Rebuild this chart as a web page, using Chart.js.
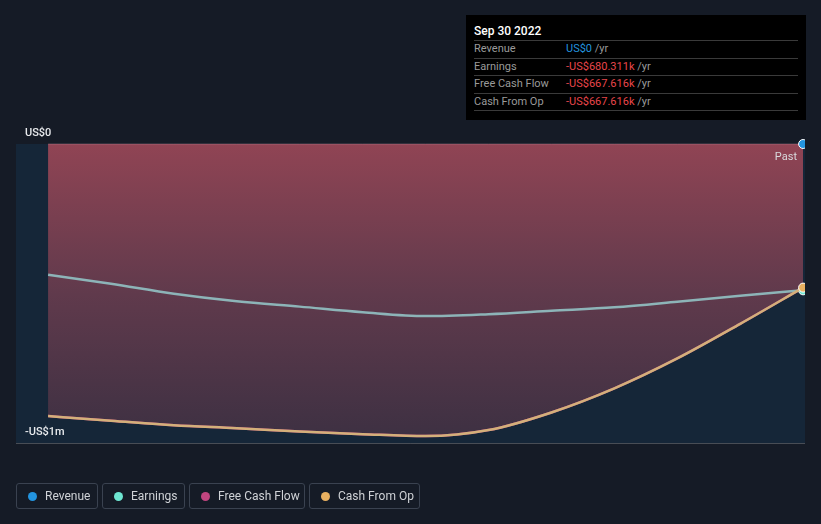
<!DOCTYPE html>
<html>
<head>
<meta charset="utf-8">
<script src="https://cdn.jsdelivr.net/npm/chart.js@4.4.0/dist/chart.umd.min.js"></script>
<style>
  html, body { margin: 0; padding: 0; background: #151b26; }
  body { width: 821px; height: 524px; position: relative; overflow: hidden; font-family: Roboto, "Noto Sans", sans-serif; }
  #wrap { position: absolute; left: 0; top: 0; width: 821px; height: 524px; }
  .tip { position: absolute; left: 466px; top: 15px; width: 340px; height: 105px; background: #000; box-sizing: border-box; padding: 8px 8px 0 8px; font-size: 11px; }
  .tip .title { color: #fff; font-size: 12px; font-weight: 500; height: 17px; line-height: 17px; border-bottom: 1px solid #3a3a3a; }
  .tip .row { height: 16.5px; line-height: 16.5px; border-bottom: 1px solid #3a3a3a; color: #9a9a9a; position: relative; }
  .tip .row span.v { position: absolute; left: 92px; }
  .blue { color: #2394df; }
  .red { color: #e8464b; }
  .legend div { position: absolute; top: 483px; height: 26px; box-sizing: border-box; border: 1px solid #3a4250; border-radius: 3px; color: #cfd2d6; font-size: 12px; line-height: 24px; padding-left: 11px; white-space: nowrap; }
  .legend i { display: inline-block; width: 9px; height: 9px; border-radius: 50%; margin-right: 8px; vertical-align: -0.5px; }
</style>
</head>
<body>
<div id="wrap"><canvas id="chart" width="821" height="524"></canvas></div>
<div class="tip">
  <div class="title">Sep 30 2022</div>
  <div class="row">Revenue<span class="v"><span class="blue">US$0</span> /yr</span></div>
  <div class="row">Earnings<span class="v"><span class="red">-US$680.311k</span> /yr</span></div>
  <div class="row">Free Cash Flow<span class="v"><span class="red">-US$667.616k</span> /yr</span></div>
  <div class="row">Cash From Op<span class="v"><span class="red">-US$667.616k</span> /yr</span></div>
</div>
<div class="legend">
  <div style="left:16px;width:82px"><i style="background:#2394df"></i>Revenue</div>
  <div style="left:102px;width:83px"><i style="background:#6ee6d2"></i>Earnings</div>
  <div style="left:189px;width:116px"><i style="background:#c0457f"></i>Free Cash Flow</div>
  <div style="left:309px;width:111px"><i style="background:#e8b060"></i>Cash From Op</div>
</div>
<script>
// quarterly periods, values in US$ millions
const periods = ["Sep 2019", "Dec 2019", "Mar 2020", "Jun 2020", "Sep 2020", "Dec 2020", "Mar 2021",
                 "Jun 2021", "Sep 2021", "Dec 2021", "Mar 2022", "Jun 2022", "Sep 2022"];
const revenue = [0, 0, 0, 0, 0, 0, 0, 0, 0, 0, 0, 0, 0];
const earnings = [-0.608, -0.650, -0.696, -0.731, -0.756, -0.782, -0.800, -0.791, -0.775, -0.759, -0.733, -0.705, -0.680311];
const freeCashFlow = [-1.265, -1.286, -1.307, -1.321, -1.337, -1.349, -1.358, -1.330, -1.248, -1.136, -0.997, -0.836, -0.667616];
const cashFromOp = [-1.265, -1.286, -1.307, -1.321, -1.337, -1.349, -1.358, -1.330, -1.248, -1.136, -0.997, -0.836, -0.667616];
const yTop = 0, yBottom = -1.39;

const pts = arr => arr.map((v, i) => ({ x: i, y: v }));
const lastOnly = (r) => periods.map((_, i) => i === periods.length - 1 ? r : 0);

const bgPlugin = {
  id: 'bg',
  beforeDatasetsDraw(chart) {
    const { ctx, chartArea: a } = chart;
    ctx.save();
    ctx.fillStyle = '#152638';
    ctx.fillRect(a.left, a.top, a.right - a.left, a.bottom - a.top);
    ctx.restore();
  },
  afterDraw(chart) {
    const { ctx, chartArea: a, scales } = chart;
    const y = scales.y;
    ctx.save();
    ctx.font = '500 11px Roboto';
    ctx.fillStyle = '#e8eaed';
    ctx.textBaseline = 'middle';
    ctx.fillText('US$0', 25, y.getPixelForValue(yTop) - 11);
    ctx.fillText('-US$1m', 25, y.getPixelForValue(yBottom) - 11);
    ctx.font = '11px Roboto';
    ctx.fillStyle = '#d8dadd';
    ctx.textAlign = 'right';
    ctx.fillText('Past', a.right - 8, y.getPixelForValue(yTop) + 13);
    ctx.restore();
  }
};

// gradient needs the chart area, so use a scriptable colour
function redFill(context) {
  const { ctx, chartArea } = context.chart;
  if (!chartArea) return 'rgba(143,68,84,0.8)';
  const g = ctx.createLinearGradient(0, chartArea.top, 0, chartArea.bottom);
  g.addColorStop(0, 'rgb(144,68,84)');
  g.addColorStop(0.5, 'rgb(96,58,76)');
  g.addColorStop(1, 'rgb(60,48,66)');
  return g;
}

new Chart(document.getElementById('chart'), {
  type: 'line',
  data: {
    labels: periods,
    datasets: [
      {
        label: 'Revenue', data: pts(revenue), order: 1,
        borderColor: 'rgba(200,150,170,0.35)', borderWidth: 1,
        pointRadius: lastOnly(4.5), pointBackgroundColor: '#2394df', pointBorderColor: '#fff', pointBorderWidth: 1,
        clip: { left: 5, top: 10, right: 0, bottom: 5 },
        fill: false
      },
      {
        label: 'Earnings', data: pts(earnings), order: 3,
        borderColor: '#8db4b8', borderWidth: 2.5, cubicInterpolationMode: 'monotone',
        pointRadius: lastOnly(4.5), pointBackgroundColor: '#6ee6d2', pointBorderColor: '#fff', pointBorderWidth: 1,
        fill: false
      },
      {
        label: 'Cash From Op', data: pts(cashFromOp), order: 2,
        borderColor: '#d3b07a', borderWidth: 2.5, cubicInterpolationMode: 'monotone',
        pointRadius: lastOnly(4.5), pointBackgroundColor: '#e8b060', pointBorderColor: '#fff', pointBorderWidth: 1,
        fill: false
      },
      {
        label: 'Free Cash Flow', data: pts(freeCashFlow), order: 4,
        borderColor: '#c0457f', borderWidth: 2.5, cubicInterpolationMode: 'monotone',
        pointRadius: 0,
        fill: 'origin', backgroundColor: redFill
      }
    ]
  },
  options: {
    responsive: false,
    animation: false,
    layout: { padding: { left: 16, right: 16, top: 144, bottom: 81 } },
    plugins: { legend: { display: false }, tooltip: { enabled: false } },
    scales: {
      x: { type: 'linear', display: false, min: -0.51, max: 12.03 },
      y: {
        min: yBottom, max: yTop,
        ticks: { display: false, stepSize: 0.5 },
        border: { display: false },
        grid: {
          drawTicks: false,
          color: c => c.tick.value === yBottom ? 'rgba(255,255,255,0.22)' : 'rgba(255,255,255,0.1)'
        }
      }
    }
  },
  plugins: [bgPlugin]
});
</script>
</body>
</html>
